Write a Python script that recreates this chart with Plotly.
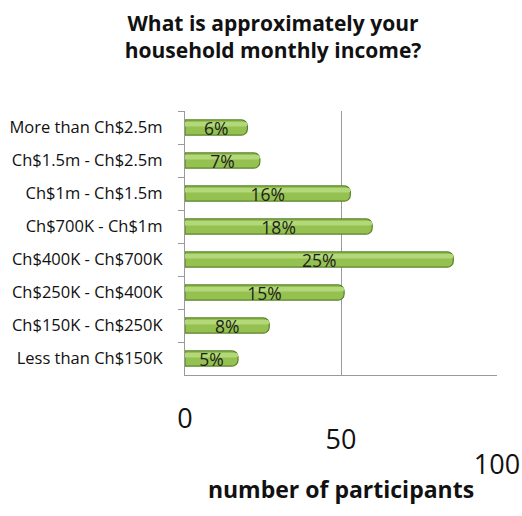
import plotly.graph_objects as go

# Income brackets, listed from the top of the chart downwards
categories = [
    "More than Ch$2.5m",
    "Ch$1.5m - Ch$2.5m",
    "Ch$1m - Ch$1.5m",
    "Ch$700K - Ch$1m",
    "Ch$400K - Ch$700K",
    "Ch$250K - Ch$400K",
    "Ch$150K - Ch$250K",
    "Less than Ch$150K",
]
# Number of participants in each bracket
participants = [20, 24, 53, 60, 86, 51, 27, 17]

x_ticks = [0, 50, 100]
x_tick_labels = ["0", "50", "100"]

total = sum(participants)
pct_labels = [f"{round(v / total * 100)}%" for v in participants]

FONT = "Open Sans"
GRID = "#9A9A9A"

fig = go.Figure()

# body of each cylinder-style bar
fig.add_trace(go.Bar(
    y=categories, x=participants, orientation="h",
    width=0.46,
    marker=dict(color="#95C150", line=dict(color="#5A8229", width=1.2), cornerradius=6),
    hoverinfo="skip",
))
# lighter highlight strip along the upper half of each bar
fig.add_trace(go.Bar(
    y=categories, x=participants, orientation="h", xaxis="x2",
    width=0.14, offset=-0.17,
    marker=dict(color="#B2D879", line=dict(width=0), cornerradius=4),
    hoverinfo="skip",
))
# percentage labels, on a transparent copy of the bars so they sit on top
fig.add_trace(go.Bar(
    y=categories, x=participants, orientation="h", xaxis="x3",
    width=0.46,
    marker=dict(color="rgba(0,0,0,0)", line=dict(width=0)),
    text=pct_labels, textposition="inside", insidetextanchor="middle",
    textfont=dict(family=FONT, size=17.5, color="#1E1E1E"),
    constraintext="none",
    hoverinfo="skip",
))

fig.update_layout(
    width=522, height=516,
    margin=dict(l=185, r=25, t=111, b=141),
    paper_bgcolor="white", plot_bgcolor="white",
    showlegend=False, barmode="overlay",
    uniformtext=dict(minsize=17.5, mode="show"),
    title=dict(
        text="<b>What is approximately your<br>household monthly income?</b>",
        x=0.523, xanchor="center", y=0.940, yanchor="middle",
        font=dict(family=FONT, size=21, color="#111111"),
    ),
    font=dict(family=FONT, color="#111111"),
)

tick_font = dict(family=FONT, size=27, color="#111111")

# main value axis: gridlines at every tick, label only for the first tick
fig.update_xaxes(
    range=[0, 100], tickvals=x_ticks, ticktext=[x_tick_labels[0], "", ""],
    showgrid=True, gridcolor=GRID, gridwidth=1.3,
    zeroline=False, showline=True, linecolor=GRID, linewidth=1.3,
    tickfont=tick_font, ticklabelstandoff=19, automargin=False,
    title=dict(text="<b>number of participants</b>", standoff=47,
               font=dict(family=FONT, size=23, color="#111111")),
)
# the remaining tick labels step down along the receding floor edge
fig.update_layout(
    xaxis2=dict(
        overlaying="x", anchor="y", side="bottom", range=[0, 100],
        tickvals=[x_ticks[1]], ticktext=[x_tick_labels[1]],
        showgrid=False, zeroline=False, showline=False,
        tickfont=tick_font, ticklabelstandoff=46, automargin=False,
    ),
    xaxis3=dict(
        overlaying="x", anchor="y", side="bottom", range=[0, 100],
        tickvals=[x_ticks[2]], ticktext=[x_tick_labels[2]],
        showgrid=False, zeroline=False, showline=False,
        tickfont=tick_font, ticklabelstandoff=71, automargin=False,
    ),
)
fig.update_yaxes(
    categoryorder="array", categoryarray=categories, autorange="reversed",
    showline=True, linecolor=GRID, linewidth=1.3,
    ticks="outside", ticklen=6, tickcolor=GRID, tickwidth=1.3,
    tickson="boundaries", showgrid=False, automargin=False,
    tickfont=dict(family=FONT, size=16.5, color="#111111"),
    ticklabelstandoff=18,
)

fig.write_html("out.html")
